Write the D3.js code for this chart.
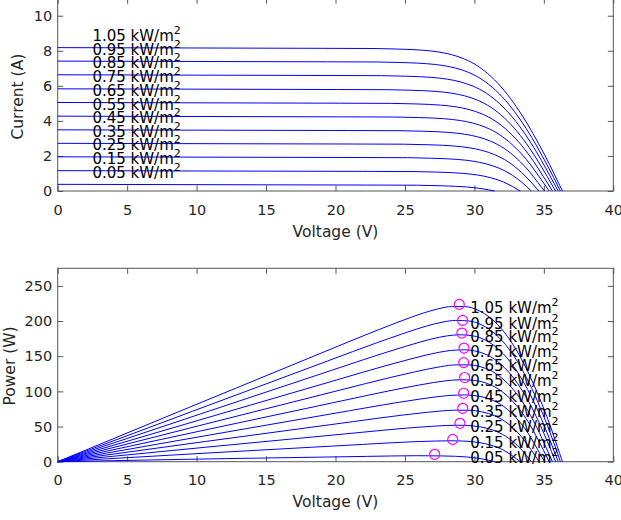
<!DOCTYPE html>
<html><head><meta charset="utf-8">
<script src="https://cdn.jsdelivr.net/npm/d3@7"></script>
<style>
body{margin:0;background:#fff}
svg{display:block;background:#fff}
text{font-family:"DejaVu Sans",sans-serif}
</style>
</head><body>
<svg id="chart" width="621" height="520"></svg>
<script>
// Irradiance levels (kW/m^2)
const irradiance = ["0.05","0.15","0.25","0.35","0.45","0.55","0.65","0.75","0.85","0.95","1.05"];

// I-V curves: [voltage (V), current (A)]
const iv005 = [[0,0.38],[22.24,0.34],[25.82,0.33],[27.53,0.30],[28.62,0.27],[29.43,0.23],[30.55,0.13],[31.45,0]];
const iv015 = [[0,1.16],[21.93,1.12],[25.51,1.11],[27.22,1.08],[28.31,1.05],[29.12,1.01],[30.24,0.91],[31.16,0.76],[32.10,0.51],[32.73,0.26],[33.30,0]];
const iv025 = [[0,1.95],[21.62,1.91],[25.19,1.90],[26.91,1.87],[27.99,1.84],[28.80,1.80],[29.92,1.70],[30.84,1.55],[31.78,1.30],[32.73,0.90],[33.41,0.50],[34.10,0]];
const iv035 = [[0,2.72],[21.31,2.68],[24.88,2.67],[26.60,2.64],[27.69,2.61],[28.49,2.57],[29.61,2.47],[30.53,2.32],[31.47,2.07],[32.42,1.67],[33.39,1.06],[34.06,0.52],[34.65,0]];
const iv045 = [[0,3.49],[21.00,3.45],[24.58,3.44],[26.29,3.41],[27.38,3.38],[28.18,3.34],[29.30,3.24],[30.23,3.09],[31.17,2.84],[32.12,2.44],[33.09,1.83],[34.04,1.03],[34.56,0.49],[35.05,0]];
const iv055 = [[0,4.27],[20.69,4.23],[24.26,4.22],[25.98,4.19],[27.07,4.16],[27.87,4.12],[28.99,4.02],[29.91,3.87],[30.85,3.62],[31.80,3.22],[32.77,2.61],[33.73,1.81],[34.58,0.91],[35.38,0]];
const iv065 = [[0,5.05],[20.38,5.01],[23.95,5.00],[25.67,4.97],[26.75,4.94],[27.56,4.90],[28.68,4.80],[29.60,4.65],[30.54,4.40],[31.49,4.00],[32.46,3.39],[33.41,2.59],[34.26,1.69],[35.07,0.69],[35.62,0]];
const iv075 = [[0,5.83],[20.06,5.79],[23.64,5.78],[25.35,5.75],[26.44,5.72],[27.25,5.68],[28.37,5.58],[29.29,5.43],[30.23,5.18],[31.18,4.78],[32.15,4.17],[33.10,3.37],[33.95,2.47],[34.76,1.47],[35.24,0.83],[35.84,0]];
const iv085 = [[0,6.63],[19.74,6.59],[23.32,6.58],[25.03,6.55],[26.12,6.52],[26.93,6.48],[28.05,6.38],[28.97,6.23],[29.91,5.98],[30.86,5.58],[31.83,4.97],[32.78,4.17],[33.63,3.27],[34.44,2.27],[35.23,1.17],[35.60,0.63],[36.03,0]];
const iv095 = [[0,7.41],[19.43,7.37],[23.01,7.36],[24.72,7.33],[25.81,7.30],[26.62,7.26],[27.74,7.16],[28.66,7.01],[29.60,6.76],[30.55,6.36],[31.52,5.75],[32.47,4.95],[33.32,4.05],[34.13,3.05],[34.92,1.95],[35.72,0.75],[36.19,0]];
const iv105 = [[0,8.18],[19.12,8.14],[22.70,8.13],[24.41,8.10],[25.50,8.07],[26.31,8.03],[27.43,7.93],[28.35,7.78],[29.29,7.53],[30.24,7.13],[31.21,6.52],[32.16,5.72],[33.01,4.82],[33.82,3.82],[34.61,2.72],[35.41,1.52],[36.14,0.32],[36.34,0]];

// Maximum power points
const mppVoltage = [27.14, 28.44, 28.96, 29.16, 29.23, 29.30, 29.23, 29.25, 29.10, 29.15, 28.91];
const mppPower   = [10.5, 31.7, 54.6, 75.9, 97.3, 119.7, 140.9, 161.6, 182.9, 200.9, 223.7];

// Tick values
const voltageTicks = [0,5,10,15,20,25,30,35,40];
const currentTicks = [0,2,4,6,8,10];
const powerTicks = [0,50,100,150,200,250];

const curves = [iv005, iv015, iv025, iv035, iv045, iv055, iv065, iv075, iv085, iv095, iv105];

const svg = d3.select("#chart");
const X0 = 57.7, X1 = 613.3;
const x = d3.scaleLinear().domain([0, 40]).range([X0, X1]);
const yI = d3.scaleLinear().domain([0, 11]).range([191, -1.8]);
const yP = d3.scaleLinear().domain([0, 275]).range([461.7, 268.3]);

const AX = "#555";
const TXT = "#262626";
const TL = 5.5;

function axesFrame(y, yTicks) {
  const [yb, yt] = y.range();
  const g = svg.append("g");
  const style = sel => {
    sel.select(".domain").remove();
    sel.selectAll(".tick line").attr("stroke", AX).attr("stroke-width", 1);
    sel.selectAll(".tick text").attr("fill", TXT);
    sel.attr("font-size", 14.5).attr("font-family", "DejaVu Sans");
  };
  g.append("g").attr("transform", `translate(0,${yb})`)
    .call(d3.axisBottom(x).tickValues(voltageTicks).tickSizeInner(-TL).tickSizeOuter(0).tickPadding(13.5)).call(style);
  g.append("g").attr("transform", `translate(0,${yt})`)
    .call(d3.axisTop(x).tickValues(voltageTicks).tickSizeInner(-TL).tickSizeOuter(0).tickFormat("")).call(style);
  g.append("g").attr("transform", `translate(${X0},0)`)
    .call(d3.axisLeft(y).tickValues(yTicks).tickSizeInner(-TL).tickSizeOuter(0).tickPadding(5.5)).call(style);
  g.append("g").attr("transform", `translate(${X1},0)`)
    .call(d3.axisRight(y).tickValues(yTicks).tickSizeInner(-TL).tickSizeOuter(0).tickFormat("")).call(style);
  g.append("rect").attr("x", X0).attr("y", yt).attr("width", X1 - X0).attr("height", yb - yt)
    .attr("fill", "none").attr("stroke", AX).attr("stroke-width", 1);
}

// ---------- Top: I-V ----------
axesFrame(yI, currentTicks);
const lineI = d3.line().x(d => x(d[0])).y(d => yI(d[1])).curve(d3.curveMonotoneX);
svg.append("g").selectAll("path").data(curves).join("path")
  .attr("d", lineI).attr("fill", "none").attr("stroke", "#0000ff").attr("stroke-width", 1);

function label(gsel, px, py, txt) {
  const t = gsel.append("text").attr("x", px).attr("y", py)
    .attr("font-size", 15).attr("fill", "#000");
  t.append("tspan").text(txt + " kW/m");
  t.append("tspan").attr("dy", -7).attr("font-size", 11).text("2");
}
const topLabels = svg.append("g");
irradiance.forEach((g, k) => label(topLabels, x(2.5), yI(curves[k][0][1]) - 6.5, g));

svg.append("text").attr("x", (X0 + X1) / 2).attr("y", 237).attr("text-anchor", "middle")
  .attr("font-size", 15.5).attr("fill", TXT).text("Voltage (V)");
svg.append("text").attr("transform", `translate(23,${(yI.range()[0] + yI.range()[1]) / 2 + 2}) rotate(-90)`)
  .attr("text-anchor", "middle").attr("font-size", 15.5).attr("fill", TXT).text("Current (A)");

// ---------- Bottom: P-V ----------
axesFrame(yP, powerTicks);
const powerCurves = curves.map(c => c.map(([v, i]) => [v, v * i]));
const lineP = d3.line().x(d => x(d[0])).y(d => yP(d[1])).curve(d3.curveMonotoneX);
svg.append("g").selectAll("path").data(powerCurves).join("path")
  .attr("d", lineP).attr("fill", "none").attr("stroke", "#0000ff").attr("stroke-width", 1);

svg.append("g").selectAll("circle").data(mppVoltage).join("circle")
  .attr("cx", d => x(d)).attr("cy", (d, k) => yP(mppPower[k])).attr("r", 5)
  .attr("fill", "none").attr("stroke", "#ff00ff").attr("stroke-width", 1.2);

const botLabels = svg.append("g");
irradiance.forEach((g, k) => label(botLabels, x(29.7), yP(mppPower[k]) + 8.5, g));

svg.append("text").attr("x", (X0 + X1) / 2).attr("y", 507).attr("text-anchor", "middle")
  .attr("font-size", 15.5).attr("fill", TXT).text("Voltage (V)");
svg.append("text").attr("transform", `translate(14.5,${(yP.range()[0] + yP.range()[1]) / 2 + 1}) rotate(-90)`)
  .attr("text-anchor", "middle").attr("font-size", 15.5).attr("fill", TXT).text("Power (W)");
</script>
</body></html>
